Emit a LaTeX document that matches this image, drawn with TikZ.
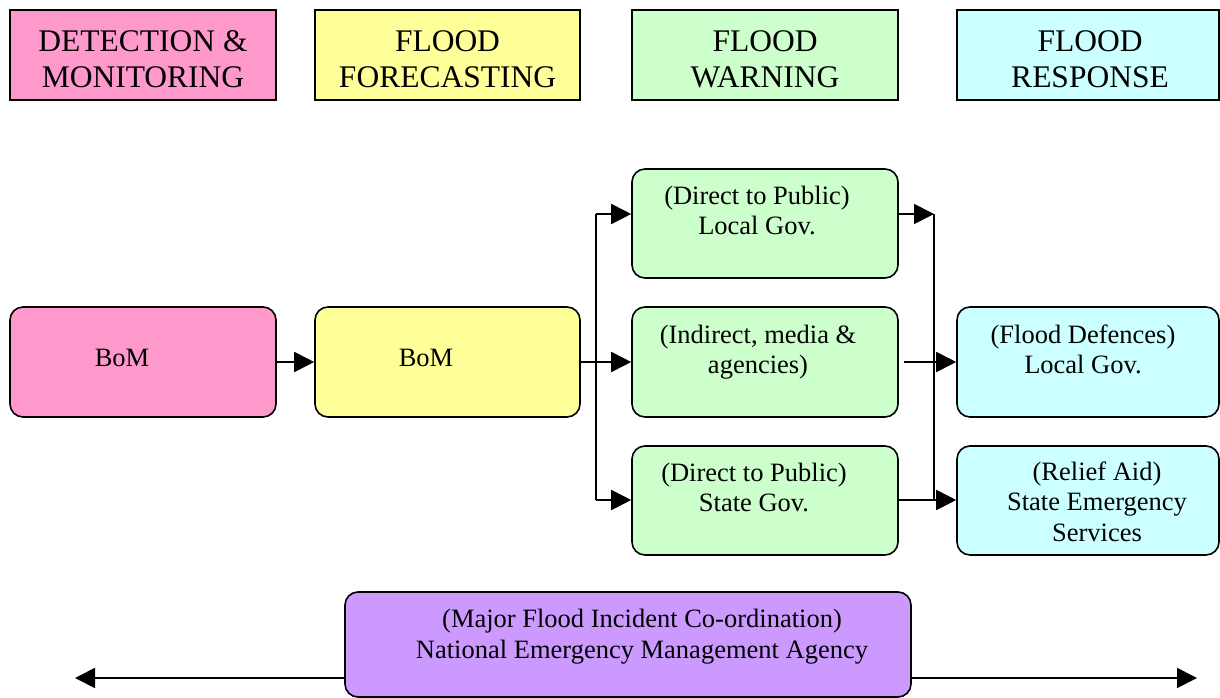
\documentclass[tikz,border=0pt]{standalone}
\usepackage{fontspec}
\setmainfont{Liberation Serif}
\usetikzlibrary{arrows.meta}

\definecolor{detpink}{HTML}{FF99CC}
\definecolor{fcyellow}{HTML}{FFFF99}
\definecolor{warngreen}{HTML}{CCFFCC}
\definecolor{respcyan}{HTML}{CCFFFF}
\definecolor{natpurple}{HTML}{CC99FF}

% text nodes are placed by the baseline of their last line
\tikzset{
  headbox/.style={draw=black, line width=1.4pt, minimum width=266pt, minimum height=90pt, inner sep=0pt},
  stagebox/.style={draw=black, line width=1.6pt, rounded corners=13pt, minimum width=266pt, minimum height=110pt, inner sep=0pt},
  headtext/.style={anchor=base, align=center, inner sep=0pt, font=\fontsize{31.5}{36}\selectfont},
  bodytext/.style={anchor=base, align=center, inner sep=0pt, font=\fontsize{26.5}{30.5}\selectfont},
  link/.style={draw=black, line width=1.8pt},
  flow/.style={link, -{Triangle[length=20pt, width=20pt]}}
}

\begin{document}
\begin{tikzpicture}[x=1pt, y=-1pt]
\useasboundingbox (0,0) rectangle (1220,698);

% stage headings
\node[headbox, fill=detpink]   (h1) at (143,55) {};
\node[headbox, fill=fcyellow, minimum width=265pt]  (h2) at (447.5,55) {};
\node[headbox, fill=warngreen] (h3) at (765,55) {};
\node[headbox, fill=respcyan, minimum width=262pt]  (h4) at (1088,55) {};
\node[headtext] (h1t) at (143,87.5)  {DETECTION \&\\MONITORING};
\node[headtext] (h2t) at (447.5,87.5) {FLOOD\\FORECASTING};
\node[headtext] (h3t) at (765,87.5)  {FLOOD\\WARNING};
\node[headtext] (h4t) at (1090,87.5) {FLOOD\\RESPONSE};

% detection and forecasting
\node[stagebox, fill=detpink]  (b1) at (143,362) {};
\node[stagebox, fill=fcyellow, minimum width=265pt] (b2) at (447.5,362) {};
\node[bodytext] (b1t) at (122,366.5) {BoM};
\node[bodytext] (b2t) at (426,366.5) {BoM};

% warning channels
\node[stagebox, fill=warngreen, minimum height=109pt] (g1) at (765,223.5) {};
\node[stagebox, fill=warngreen] (g2) at (765,362) {};
\node[stagebox, fill=warngreen, minimum height=109pt] (g3) at (765,500.5) {};
\node[bodytext] (g1t) at (757,234.5) {(Direct to Public)\\Local Gov.};
\node[bodytext] (g2t) at (758,373.5) {(Indirect, media \&\\agencies)};
\node[bodytext] (g3t) at (754,511.5) {(Direct to Public)\\State Gov.};

% response
\node[stagebox, fill=respcyan, minimum width=262pt] (c1) at (1088,362) {};
\node[stagebox, fill=respcyan, minimum width=262pt, minimum height=109pt] (c2) at (1088,500.5) {};
\node[bodytext] (c1t) at (1083,373.5) {(Flood Defences)\\Local Gov.};
\node[bodytext] (c2t) at (1097,541) {(Relief Aid)\\State Emergency\\Services};

% national co-ordination
\node[stagebox, fill=natpurple, minimum width=566pt, minimum height=105pt] (p) at (628,644.5) {};
\node[bodytext] (pt) at (642,658) {(Major Flood Incident Co-ordination)\\National Emergency Management Agency};

% junction points
\coordinate (ja) at (596,214);
\coordinate (jb) at (596,500);
\coordinate (ka) at (934,214);
\coordinate (kb) at (934,500);
\coordinate (kc) at (904,362);
\coordinate (bl) at (75,678);
\coordinate (br) at (1197,678);

% connectors
\draw[flow] (b1.east) -- (b2.west);
\draw[flow] (b2.east) -- (g2.west);
\draw[link] (ja) -- (jb);
\draw[flow] (ja) -- (g1.west |- ja);
\draw[flow] (jb) -- (g3.west |- jb);
\draw[flow] (g1.east |- ka) -- (ka);
\draw[link] (ka) -- (kb);
\draw[flow] (kc) -- (c1.west);
\draw[flow] (g3.east |- kb) -- (c2.west |- kb);
\draw[flow] (p.west |- bl) -- (bl);
\draw[flow] (p.east |- br) -- (br);
\end{tikzpicture}
\end{document}
